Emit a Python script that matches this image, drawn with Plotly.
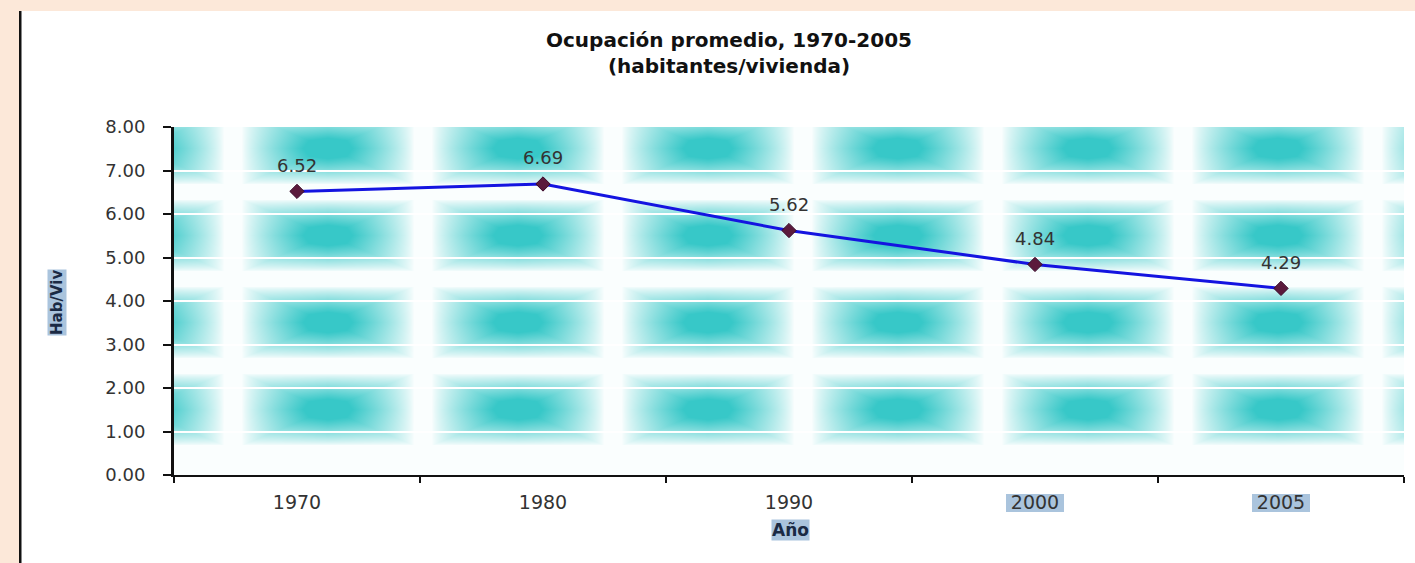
import base64
import struct
import zlib

import numpy as np
import plotly.graph_objects as go

# ---------------- data ----------------
years = ["1970", "1980", "1990", "2000", "2005"]
occupancy = [6.52, 6.69, 5.62, 4.84, 4.29]
y_ticks = [0, 1, 2, 3, 4, 5, 6, 7, 8]
y_tick_labels = [f"{v:.2f}" for v in y_ticks]
highlighted_years = ["2000", "2005"]

title_line1 = "Ocupación promedio, 1970-2005"
title_line2 = "(habitantes/vivienda)"
x_title = "Año"
y_title = "Hab/Viv"

# ---------------- geometry (pixels) ----------------
FIG_W, FIG_H = 1415, 563
PL, PR, PT, PB = 174, 1404, 127, 475  # plot area edges
PW, PH = PR - PL, PB - PT


def px(x):
    return (x - PL) / PW


def py(y):
    return (PB - y) / PH


# ---------------- background texture ----------------
def texture_png():
    xs = np.arange(PW) + PL + 0.5
    ys = np.arange(PH) + PT + 0.5
    X, Y = np.meshgrid(xs, ys)
    amount = np.zeros_like(X)
    for k in range(-1, 8):
        cx = 328 + 190 * k
        for m in range(4):
            cy = 148.5 + 87 * m
            nx = np.abs(X - cx) / 86.0
            ny = np.abs(Y - cy) / 36.0
            pyr = np.clip(1 - np.maximum(nx, ny), 0, 1)
            prod = np.clip(1 - nx, 0, 1) * np.clip(1 - ny, 0, 1)
            a = np.clip((0.6 * pyr + 0.4 * prod) / 0.72, 0, 1) ** 0.8
            amount = np.maximum(amount, a)
    teal = np.array([55, 200, 200], dtype=float)
    white = np.array([250, 254, 254], dtype=float)
    img = white[None, None, :] * (1 - amount[..., None]) + teal[None, None, :] * amount[..., None]
    arr = np.clip(img, 0, 255).astype(np.uint8)
    H, W = arr.shape[:2]
    raw = b"".join(b"\x00" + arr[r].tobytes() for r in range(H))

    def chunk(tag, data):
        return (struct.pack(">I", len(data)) + tag + data
                + struct.pack(">I", zlib.crc32(tag + data) & 0xFFFFFFFF))

    png = (b"\x89PNG\r\n\x1a\n"
           + chunk(b"IHDR", struct.pack(">IIBBBBB", W, H, 8, 2, 0, 0, 0))
           + chunk(b"IDAT", zlib.compress(raw, 9))
           + chunk(b"IEND", b""))
    return "data:image/png;base64," + base64.b64encode(png).decode()


FONT = "DejaVu Sans"
TXT = "#333333"
HL = "#AAC4DD"
PEACH = "#FCE8D9"

fig = go.Figure()
fig.add_trace(go.Scatter(
    x=years, y=occupancy, mode="lines+markers",
    line=dict(color="#1414E0", width=3),
    marker=dict(symbol="diamond", size=11, color="#5B1A3C",
                line=dict(color="#3A0A2A", width=1)),
    hoverinfo="x+y", showlegend=False,
))

annotations = []
for i, v in enumerate(occupancy):
    annotations.append(dict(x=i, y=v, xref="x", yref="y", text=f"{v:.2f}",
                            showarrow=False, yshift=26,
                            font=dict(family=FONT, size=18, color=TXT)))

# title (two lines, one text block)
annotations.append(dict(x=px(729), y=py(53), xref="paper", yref="paper",
                        xanchor="center", yanchor="middle", showarrow=False,
                        text=f"<b>{title_line1}</b><br><b>{title_line2}</b>",
                        font=dict(family=FONT, size=20, color="#111111")))
# axis titles with highlight
annotations.append(dict(x=px(790), y=py(530), xref="paper", yref="paper",
                        xanchor="center", yanchor="middle", showarrow=False,
                        text=f"<b>{x_title}</b>", bgcolor=HL, borderpad=0,
                        font=dict(family=FONT, size=17, color="#1a2a44")))
annotations.append(dict(x=px(57), y=py(303), xref="paper", yref="paper",
                        xanchor="center", yanchor="middle", showarrow=False,
                        text=f"<b>{y_title}</b>", textangle=-90, bgcolor=HL, borderpad=0,
                        font=dict(family=FONT, size=15, color="#1a2a44")))

shapes = [
    # peach frame
    dict(type="rect", xref="paper", yref="paper", x0=px(0), x1=px(FIG_W), y0=py(0), y1=py(11),
         fillcolor=PEACH, line=dict(width=0), layer="below"),
    dict(type="rect", xref="paper", yref="paper", x0=px(0), x1=px(19), y0=py(0), y1=py(FIG_H),
         fillcolor=PEACH, line=dict(width=0), layer="below"),
    dict(type="rect", xref="paper", yref="paper", x0=px(19), x1=px(21.5), y0=py(11), y1=py(FIG_H),
         fillcolor="#111111", line=dict(width=0), layer="below"),
]
# highlight boxes behind selected tick labels
for yr in highlighted_years:
    i = years.index(yr)
    cx = PL + (i + 0.5) * PW / len(years)
    shapes.append(dict(type="rect", xref="paper", yref="paper",
                       x0=px(cx - 29), x1=px(cx + 29), y0=py(512), y1=py(494),
                       fillcolor=HL, line=dict(width=0), layer="below"))

fig.update_layout(
    width=FIG_W, height=FIG_H,
    margin=dict(l=PL, r=FIG_W - PR, t=PT, b=FIG_H - PB, pad=0),
    paper_bgcolor="white", plot_bgcolor="rgba(0,0,0,0)",
    showlegend=False,
    annotations=annotations,
    shapes=shapes,
    images=[dict(source=texture_png(), xref="paper", yref="paper", x=0, y=1,
                 sizex=1, sizey=1, xanchor="left", yanchor="top",
                 sizing="stretch", layer="below")],
    xaxis=dict(type="category", range=[-0.5, len(years) - 0.5], tickson="boundaries",
               showline=True, linecolor="#111111", linewidth=2,
               ticks="outside", ticklen=6, tickwidth=2, tickcolor="#111111",
               showgrid=False, zeroline=False, ticklabelstandoff=9,
               tickfont=dict(family=FONT, size=19, color=TXT)),
    yaxis=dict(range=[0, 8], tickvals=y_ticks, ticktext=y_tick_labels,
               showline=True, linecolor="#111111", linewidth=3,
               ticks="outside", ticklen=8, tickwidth=2, tickcolor="#111111",
               showgrid=True, gridcolor="white", gridwidth=2, zeroline=False,
               ticklabelstandoff=14,
               tickfont=dict(family=FONT, size=18, color=TXT)),
)

fig.write_html("out.html", config={"displayModeBar": False},
               post_script="document.body.style.margin='0';document.body.style.padding='0';")
